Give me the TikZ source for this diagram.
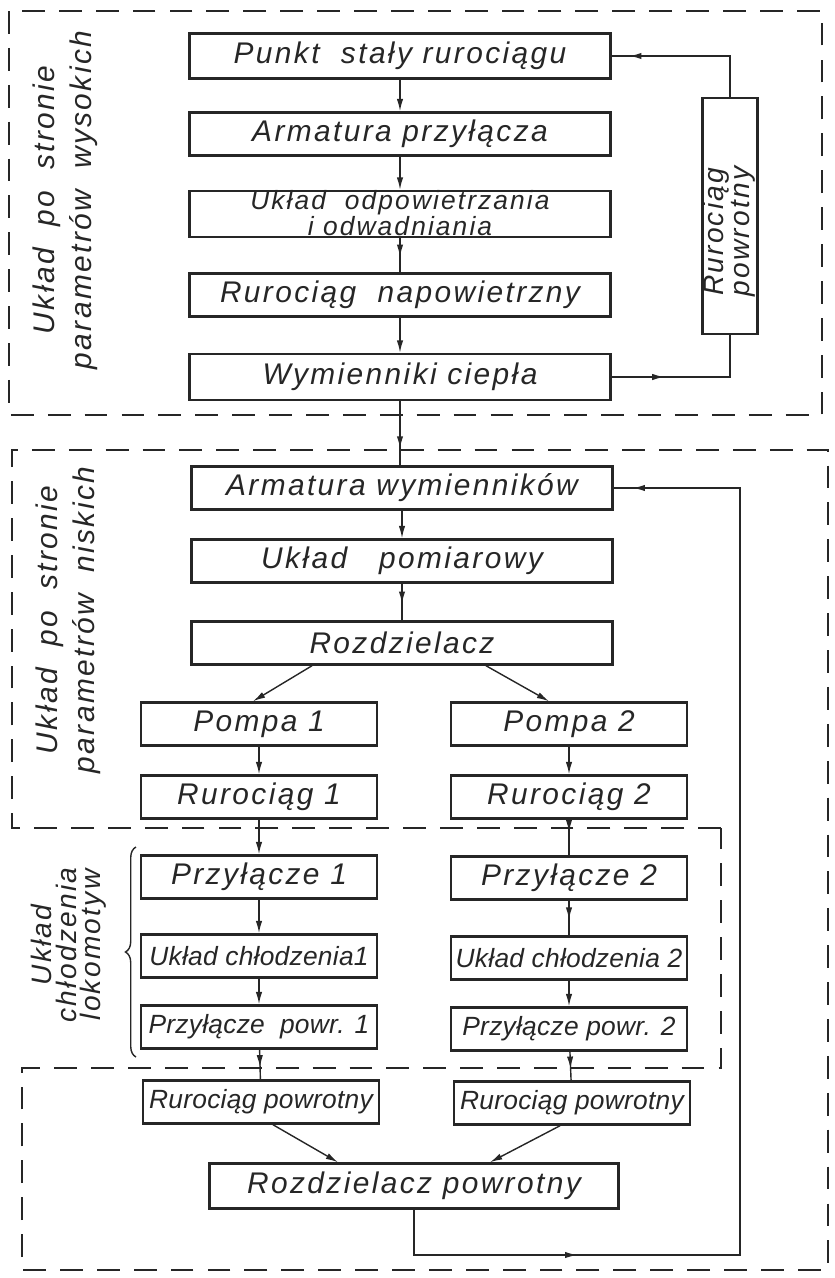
\documentclass[tikz,border=0pt]{standalone}
\usepackage{fontspec}
\setmainfont{Liberation Sans}[LetterSpace=8]
\usetikzlibrary{arrows.meta}
\usetikzlibrary{calc}
\usetikzlibrary{decorations.pathreplacing}
\usetikzlibrary{decorations.markings}
\newcommand{\dwiewiersze}[2]{\smash{\raisebox{-5pt}{\fontsize{15}{12.5}\selectfont
    \begin{tabular}{@{}c@{}}#1\\#2\end{tabular}}}}
\tikzset{
    box/.style={draw, line width=1.4pt, inner sep=0pt, minimum height=0.86cm,
        font=\fontsize{17}{19}\selectfont\itshape},
    widebox/.style={box, minimum width=8.42cm},
    halfbox/.style={box, minimum width=4.72cm},
    tightbox/.style={halfbox,
        font=\fontsize{15}{18}\selectfont\itshape\addfontfeatures{LetterSpace=1}},
    sidelabel/.style={rotate=90, align=center, font=\fontsize{17}{21}\selectfont\itshape},
    dashframe/.style={draw, line width=1.6pt, dash pattern=on 13pt off 8pt},
    midarrow/.style={postaction={decorate},
        decoration={markings,mark=at position #1 with {\arrow{>}}}},
}
\begin{document}
\begin{tikzpicture}[x=0.02cm, y=-0.02cm, line width=0.8pt, color=black!85,
    >={Latex[length=7pt,width=3.6pt]}]
	\useasboundingbox (0,0) rectangle (835,1278);
	% dashed frames
	\draw[dashframe] (9,11) rectangle (822,415);
	\draw[dashframe] (721,828) -- (12,828) -- (12,450) -- (828,450) -- (828,1270)
		-- (22,1270) -- (22,1068) -- (721,1068) -- cycle;
	% high side
	\node[widebox, minimum height=0.9cm] (punkt) at (400,56) {Punkt~~stały rurociągu};
	\node[widebox] (armprz) at (400,134) {Armatura przyłącza};
	\node[widebox, minimum height=0.92cm] (odpow) at (400,214)
		{\dwiewiersze{Układ~~odpowietrzania}{i odwadniania}};
	\node[widebox] (napow) at (400,295) {Rurociąg~~napowietrzny};
	\node[widebox, minimum height=0.92cm] (wymien) at (400,377) {Wymienniki ciepła};
	\node[box, minimum width=1.1cm, minimum height=4.72cm] (powrot) at (730,216)
		{\rotatebox{90}{\fontsize{16}{14.5}\selectfont
		\begin{tabular}{@{}c@{}}Rurociąg\\powrotny\end{tabular}\hspace{18pt}}};
	\node[sidelabel] (wysokie) at (65,200) {Układ~~po~~stronie\\parametrów~~wysokich};
	% low side
	\node[widebox] (armwym) at (402,488) {Armatura wymienników};
	\node[widebox] (pomiar) at (402,561) {Układ~~~pomiarowy};
	\node[widebox] (rozdz) at (402,643) {Rozdzielacz};
	\node[halfbox] (pompa1) at (259,724) {Pompa 1};
	\node[halfbox] (pompa2) at (569,724) {Pompa 2};
	\node[halfbox] (rur1) at (259,797) {Rurociąg 1};
	\node[halfbox] (rur2) at (569,797) {Rurociąg 2};
	\node[sidelabel] (niskie) at (68,620) {Układ~~po~~stronie\\parametrów~~niskich};
	% locomotives
	\node[halfbox] (przyl1) at (259,877) {Przyłącze 1};
	\node[halfbox] (przyl2) at (569,878) {Przyłącze 2};
	\node[tightbox] (chlod1) at (259,956) {Układ chłodzenia1};
	\node[tightbox] (chlod2) at (569,958) {Układ chłodzenia 2};
	\node[tightbox] (powr1) at (259,1027) {Przyłącze~ powr. 1};
	\node[tightbox] (powr2) at (569,1029) {Przyłącze powr. 2};
	\node[sidelabel, font=\fontsize{16}{14}\selectfont\itshape] (lokomotywy) at (69,945)
		{Układ\\chłodzenia\\lokomotyw};
	\draw[decorate, decoration={brace, amplitude=6pt}] (136,1057) -- (136,847);
	% return side
	\node[tightbox] (rpowr1) at (261,1102) {Rurociąg powrotny};
	\node[tightbox] (rpowr2) at (572,1103) {Rurociąg powrotny};
	\node[box, minimum width=8.18cm, minimum height=0.9cm] (rozpowr) at (414,1186)
		{Rozdzielacz powrotny};
	\coordinate (zawrot) at (740,1255);
	% connections
	\draw[->] (punkt) -- (armprz);
	\draw[->] (armprz) -- (odpow);
	\draw[midarrow=.55] (odpow) -- (napow);
	\draw[->] (napow) -- (wymien);
	\draw[midarrow=.33] (wymien.east) -| (powrot.south);
	\draw[midarrow=.89] (powrot.north) |- (punkt.east);
	\draw[midarrow=.74] (wymien.south) -- (wymien.south |- armwym.north);
	\draw[->] (armwym) -- (pomiar);
	\draw[midarrow=.55] (pomiar) -- (rozdz);
	\draw[->] ($(rozdz.south)+(-90,0)$) -- ($(pompa1.north)+(-6,0)$);
	\draw[->] ($(rozdz.south)+(84,0)$) -- ($(pompa2.north)+(-20,0)$);
	\draw[->] (pompa1) -- (rur1);
	\draw[->] (pompa2) -- (rur2);
	\draw[->] (rur1) -- (przyl1);
	\draw[midarrow=.35] (rur2) -- (przyl2);
	\draw[->] (przyl1) -- (chlod1);
	\draw[midarrow=.55] (przyl2) -- (chlod2);
	\draw[->] (chlod1) -- (powr1);
	\draw[->] (chlod2) -- (powr2);
	\draw[midarrow=.6] (powr1) -- (rpowr1);
	\draw[midarrow=.6] (powr2) -- (rpowr2);
	\draw[->] ($(rpowr1.south)+(12,0)$) -- ($(rozpowr.north)+(-76,0)$);
	\draw[->] ($(rpowr2.south)+(-12,0)$) -- ($(rozpowr.north)+(76,0)$);
	\draw[postaction={decorate}, decoration={markings,
		mark=at position .165 with {\arrow{>}}, mark=at position .985 with {\arrow{>}}}]
		(rozpowr.south) |- (zawrot) |- (armwym.east);
\end{tikzpicture}
\end{document}
